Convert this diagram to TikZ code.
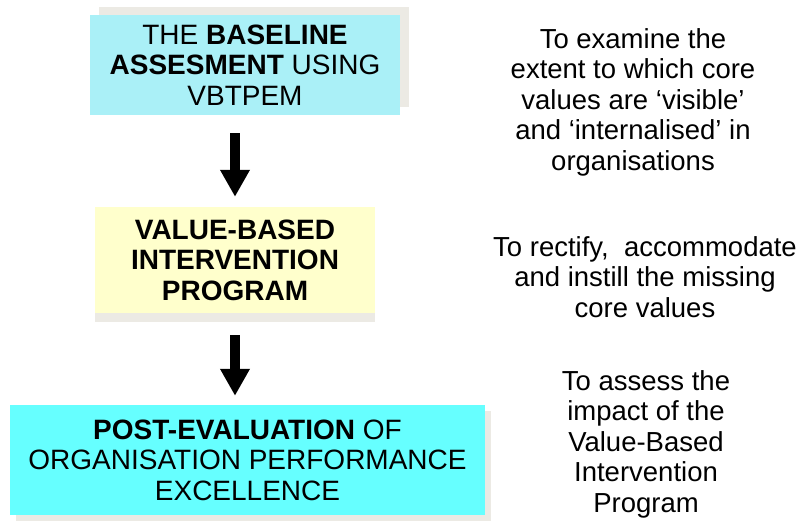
\documentclass[tikz,border=0pt]{standalone}
\usepackage{fontspec}
\setmainfont{Liberation Sans}
\usetikzlibrary{arrows.meta,shadows,positioning}
\definecolor{baseblue}{RGB}{170,240,247}
\definecolor{intyellow}{RGB}{255,255,204}
\definecolor{postcyan}{RGB}{102,255,255}
\definecolor{shadegrey}{RGB}{236,234,228}

\begin{document}
\begin{tikzpicture}[x=1pt,y=-1pt,
		stagebox/.style={align=center, inner sep=0pt, font=\fontsize{28}{30.5}\selectfont},
		aimtext/.style={align=center, inner sep=0pt, font=\fontsize{27.5}{30.5}\selectfont},
		downarrow/.style={line width=10pt, -{Triangle[width=28pt,length=27pt]}}]
	\useasboundingbox (0,0) rectangle (804,523);
	% the three stages
	\node[stagebox, fill=baseblue, minimum width=310pt, minimum height=100pt,
		general shadow={fill=shadegrey, shadow xshift=9pt, shadow yshift=8pt}] (base) at (245,65)
		{THE \textbf{BASELINE}\\ \textbf{ASSESMENT} USING\\ VBTPEM};
	\node[stagebox, fill=intyellow, minimum width=280pt, minimum height=106pt,
		general shadow={fill=shadegrey, shadow xshift=0pt, shadow yshift=-9pt}] (interv) at (235,260)
		{\textbf{VALUE-BASED}\\ \textbf{INTERVENTION}\\ \textbf{PROGRAM}};
	\node[stagebox, fill=postcyan, minimum width=475pt, minimum height=110pt,
		general shadow={fill=shadegrey, shadow xshift=6pt, shadow yshift=-6pt}] (post) at (247.5,460)
		{\textbf{POST-EVALUATION} OF\\ ORGANISATION PERFORMANCE\\ EXCELLENCE};
	\draw[downarrow, shorten <=18pt, shorten >=10pt] (interv.north |- base.south) -- (interv.north);
	\draw[downarrow, shorten <=22pt, shorten >=9pt] (interv.south) -- (interv.south |- post.north);
	% aims on the right
	\node[aimtext] (aim1) at (633,102) {To examine the\\ extent to which core\\ values are ‘visible’\\ and ‘internalised’ in\\ organisations};
	\node[aimtext] (aim2) at (645,277) {To rectify,\ \ accommodate\\ and instill the missing\\ core values};
	\node[aimtext] (aim3) at (646,444) {To assess the\\ impact of the\\ Value-Based\\ Intervention\\ Program};
\end{tikzpicture}
\end{document}
